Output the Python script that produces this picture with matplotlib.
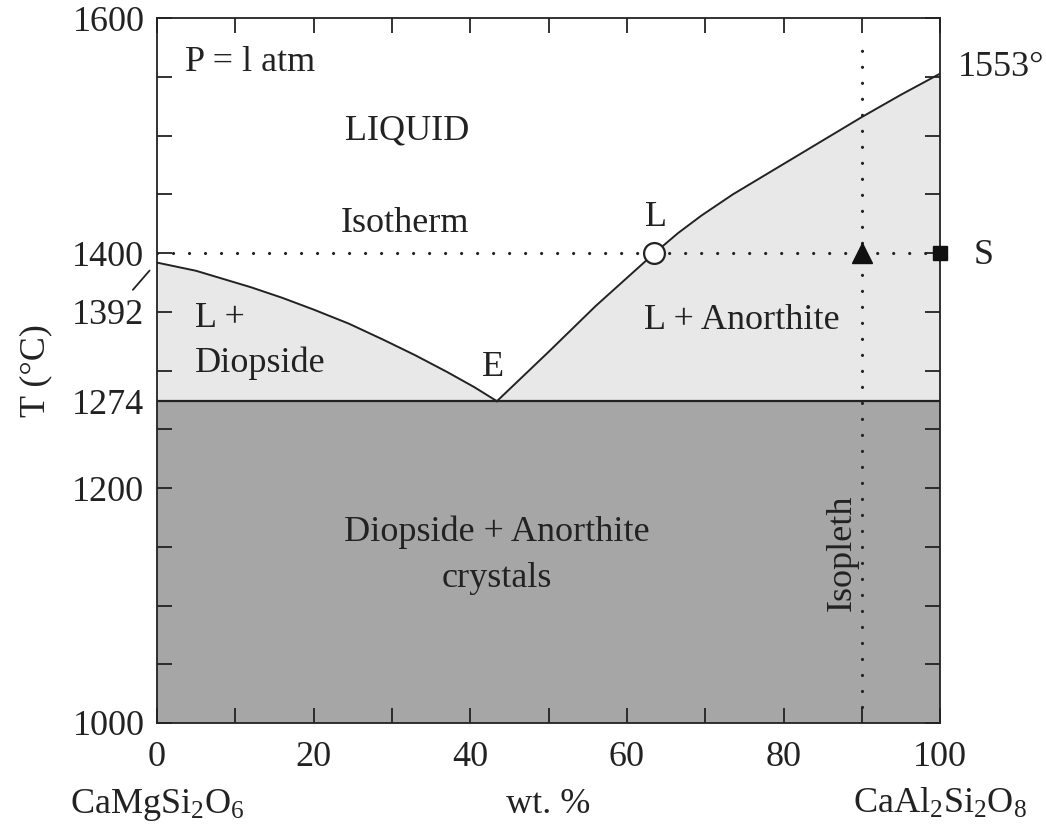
import matplotlib
matplotlib.use('Agg')
import matplotlib.pyplot as plt
import matplotlib.transforms as mtransforms

# Fonts: Times-like serif everywhere
plt.rcParams['font.family'] = ['Liberation Serif', 'DejaVu Serif']
plt.rcParams['mathtext.fontset'] = 'custom'
plt.rcParams['mathtext.rm'] = 'Liberation Serif'
plt.rcParams['mathtext.it'] = 'Liberation Serif:italic'

# Liquidus curves (wt. % anorthite, T in deg C)
left_wt = [0, 5, 8, 12, 16, 20, 24.5, 29, 33, 37, 40.5, 43.4]
left_T = [1392, 1385, 1379, 1371, 1362, 1352, 1340, 1326, 1313, 1299, 1286, 1274]
right_wt = [43.4, 50, 56, 60, 63.5, 66.5, 69.5, 73.5, 78, 82, 86, 90, 95, 100]
right_T = [1274, 1316, 1355, 1379, 1400, 1417, 1432, 1450, 1468, 1484, 1500, 1516, 1535, 1553]

eutectic_wt = 43.4
eutectic_T = 1274
isotherm_T = 1400
isopleth_wt = 90
point_L = (63.5, 1400)

ytick_pos = [1000, 1200, 1274, 1350, 1400, 1600]
ytick_labels = ['1000', '1200', '1274', '1392', '1400', '1600']
xtick_pos = [0, 20, 40, 60, 80, 100]

fig = plt.figure(figsize=(10.46, 8.31), dpi=100)
ax = fig.add_axes([0.150, 0.130, 0.749, 0.848])

light = '#e8e8e8'
dark = '#a6a6a6'
fs = 26

# phase fields
ax.fill_between([0, 100], 1000, eutectic_T, color=dark, lw=0)
ax.fill_between(left_wt, eutectic_T, left_T, color=light, lw=0)
ax.fill_between(right_wt, eutectic_T, right_T, color=light, lw=0)

# boundaries
ax.plot(left_wt, left_T, color='#222222', lw=1.4, solid_joinstyle='round')
ax.plot(right_wt, right_T, color='#222222', lw=1.4, solid_joinstyle='round')
ax.axhline(eutectic_T, color='#222222', lw=1.6)

# isotherm and isopleth (dotted)
dots = dict(color='#222222', lw=2.3, linestyle=(0, (0.01, 5.0)), dash_capstyle='round')
ax.plot([0, 100], [isotherm_T, isotherm_T], **dots)
ax.plot([isopleth_wt, isopleth_wt], [1000, 1577], **dots)

# markers
ax.plot(*point_L, 'o', ms=15, mfc='white', mec='#222222', mew=1.6, zorder=5)
ax.plot(isopleth_wt, isotherm_T, '^', ms=14, color='#111111', zorder=5)
ax.plot(100, isotherm_T, 's', ms=10, color='#111111', zorder=5, clip_on=False)

ax.set_xlim(0, 100)
ax.set_ylim(1000, 1600)

ax.set_xticks(xtick_pos)
ax.set_xticks(range(10, 100, 10), minor=True)
ax.set_yticks(ytick_pos)
ax.set_yticklabels(ytick_labels)
ax.set_yticks([y for y in range(1050, 1600, 50) if y not in (1350, 1400)], minor=True)
ax.tick_params(which='both', direction='in', top=True, right=True,
               length=11, width=1.3, color='#222222', labelsize=fs, labelcolor='#222222')
ax.tick_params(axis='x', which='both', pad=13)
ax.tick_params(axis='y', which='both', pad=9)

for s in ax.spines.values():
    s.set_linewidth(1.3)
    s.set_color('#222222')

# leader line for the 1392 label
ax.annotate('', xy=(-0.7, 1387), xytext=(-3.3, 1367),
            arrowprops=dict(arrowstyle='-', color='#222222', lw=1.3),
            annotation_clip=False)

tc = '#222222'
ax.text(3.6, 1562, 'P = l atm', fontsize=fs, color=tc, ha='left', va='center')
ax.text(31.9, 1504, 'LIQUID', fontsize=fs, color=tc, ha='center', va='center')
ax.text(31.7, 1425, 'Isotherm', fontsize=fs, color=tc, ha='center', va='center')
ax.text(4.8, 1344, 'L +', fontsize=fs, color=tc, ha='left', va='center')
ax.text(4.8, 1306, 'Diopside', fontsize=fs, color=tc, ha='left', va='center')
ax.text(42.9, 1303, 'E', fontsize=fs, color=tc, ha='center', va='center')
ax.text(63.7, 1430, 'L', fontsize=fs, color=tc, ha='center', va='center')
ax.text(74.7, 1343, 'L + Anorthite', fontsize=fs, color=tc, ha='center', va='center')
ax.text(43.4, 1162, 'Diopside + Anorthite', fontsize=fs, color=tc, ha='center', va='center')
ax.text(43.4, 1123, 'crystals', fontsize=fs, color=tc, ha='center', va='center')
ax.text(87.5, 1145, 'Isopleth', fontsize=fs, color=tc, ha='center', va='center', rotation=90)
ax.text(102.2, 1558, '1553°', fontsize=fs, color=tc, ha='left', va='center', clip_on=False)
ax.text(104.2, 1398, 'S', fontsize=fs, color=tc, ha='left', va='center', clip_on=False)

ax.set_ylabel('T (°C)', fontsize=fs, color=tc, labelpad=14)

# component labels under the axis
trans = mtransforms.blended_transform_factory(ax.transData, ax.transAxes)
ax.text(0, -0.128, r'$\mathrm{CaMgSi_2O_6}$', fontsize=fs, color=tc, ha='center', va='baseline', transform=trans)
ax.text(50, -0.128, 'wt. %', fontsize=fs, color=tc, ha='center', va='baseline', transform=trans)
ax.text(100, -0.128, r'$\mathrm{CaAl_2Si_2O_8}$', fontsize=fs, color=tc, ha='center', va='baseline', transform=trans)

fig.savefig('out.png', dpi=100)
